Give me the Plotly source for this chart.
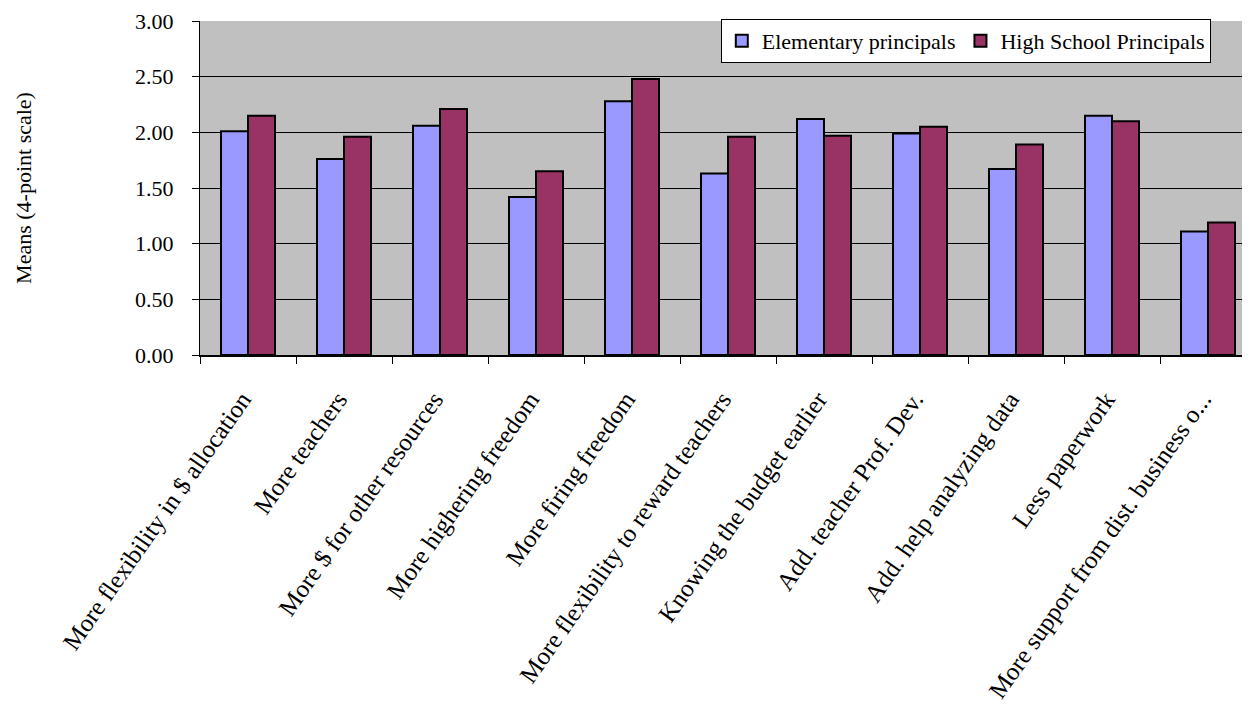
import plotly.graph_objects as go

categories = [
    "More flexibility in $ allocation",
    "More teachers",
    "More $ for other resources",
    "More highering freedom",
    "More firing freedom",
    "More flexibility to reward teachers",
    "Knowing the budget earlier",
    "Add. teacher Prof. Dev.",
    "Add. help analyzing data",
    "Less paperwork",
    "More support from dist. business o...",
]
elementary = [2.01, 1.76, 2.06, 1.42, 2.28, 1.63, 2.12, 1.99, 1.67, 2.15, 1.11]
high_school = [2.15, 1.96, 2.21, 1.65, 2.48, 1.96, 1.97, 2.05, 1.89, 2.10, 1.19]
y_ticks = [0, 0.5, 1.0, 1.5, 2.0, 2.5, 3.0]
y_tick_labels = ["0.00", "0.50", "1.00", "1.50", "2.00", "2.50", "3.00"]

FONT = "Liberation Serif, Times New Roman, serif"

fig = go.Figure()
fig.add_trace(go.Bar(
    x=categories, y=elementary, name="Elementary principals",
    marker=dict(color="#9999FF", line=dict(color="black", width=2)),
))
fig.add_trace(go.Bar(
    x=categories, y=high_school, name="High School Principals",
    marker=dict(color="#993366", line=dict(color="black", width=2)),
))

# the page body adds an 8px margin, so the figure is offset by 8px
fig.update_layout(
    width=1242, height=715,
    margin=dict(l=192, r=0, t=13, b=368),
    paper_bgcolor="white",
    plot_bgcolor="#C0C0C0",
    barmode="group",
    bargap=0.4375,
    bargroupgap=0,
    font=dict(family=FONT, size=22, color="black"),
    showlegend=True,
    legend=dict(
        orientation="h",
        x=0.496, y=1.006, xanchor="left", yanchor="top",
        bgcolor="white", bordercolor="black", borderwidth=1,
        font=dict(family=FONT, size=22, color="black"),
    ),
    xaxis=dict(
        type="category",
        range=[-0.5, 10.4375],
        tickangle=-55,
        ticks="outside", ticklen=7, tickcolor="black",
        tickson="boundaries",
        showline=True, linecolor="black", linewidth=1.5,
        showgrid=False,
        ticklabelstandoff=18,
        ticklabelshift=-6,
        tickfont=dict(family=FONT, size=25, color="black"),
    ),
    yaxis=dict(
        range=[0, 3],
        tickvals=y_ticks, ticktext=y_tick_labels,
        ticks="outside", ticklen=7, tickcolor="black",
        showline=True, linecolor="black", linewidth=1,
        showgrid=True, gridcolor="black", gridwidth=1,
        zeroline=False,
        ticklabelstandoff=14,
        tickfont=dict(family=FONT, size=22, color="black"),
        title=dict(text="Means (4-point scale)", standoff=97,
                   font=dict(family=FONT, size=22, color="black")),
    ),
)

fig.write_html("out.html")
